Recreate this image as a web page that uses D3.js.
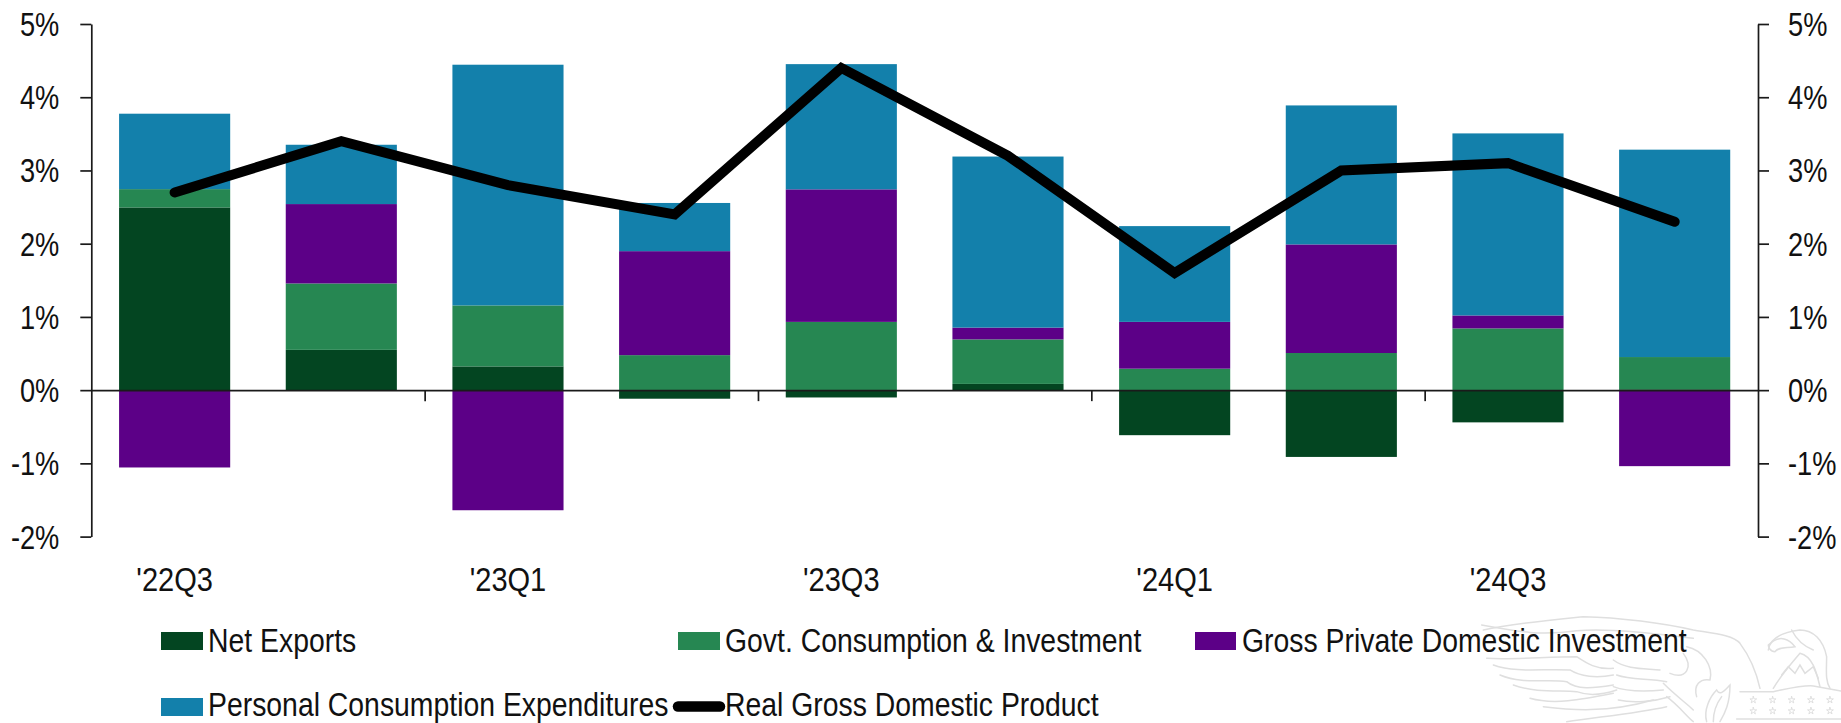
<!DOCTYPE html>
<html>
<head>
<meta charset="utf-8">
<style>
html,body{margin:0;padding:0;background:#fff;overflow:hidden}
svg{display:block}
text{font-family:"Liberation Sans",Arial,sans-serif;fill:#111}
</style>
<script src="https://cdnjs.cloudflare.com/ajax/libs/d3/7.8.5/d3.min.js"></script>
</head>
<body>
<svg id="c" width="1841" height="723"></svg>
<script>
const quarters = ["'22Q3","'22Q4","'23Q1","'23Q2","'23Q3","'23Q4","'24Q1","'24Q2","'24Q3","'24Q4"];
const labelledQuarters = ["'22Q3","'23Q1","'23Q3","'24Q1","'24Q3"];
const netExports = [2.495,0.55,0.324,-0.117,-0.10,0.085,-0.615,-0.912,-0.44,0.012];
const govt = [0.25,0.907,0.833,0.478,0.932,0.608,0.293,0.507,0.843,0.44];
const gpdi = [-1.056,1.084,-1.64,1.42,1.81,0.161,0.639,1.483,0.177,-1.038];
const pce = [1.03,0.81,3.287,0.658,1.71,2.336,1.308,1.898,2.486,2.832];
const gdp = [2.7,3.4,2.8,2.4,4.4,3.2,1.6,3.0,3.1,2.3];
const seriesNames = ["Net Exports","Govt. Consumption & Investment","Gross Private Domestic Investment","Personal Consumption Expenditures"];
const lineName = "Real Gross Domestic Product";
const seriesColors = ["#034521","#268752","#5c0087","#1380ab"];
const yTicks = [-2,-1,0,1,2,3,4,5];

const svg = d3.select("#c");
const L = 91.3, R = 1758, T = 24, B = 536.6;
const FS = 33;
const SX_TICK = 0.825, SX_LABEL = 0.88, SX_LEGEND = 0.86; // the reference text is horizontally condensed

const x = d3.scaleBand().domain(quarters).range([L,R]).paddingInner(1/3).paddingOuter(1/6);
const y = d3.scaleLinear().domain([-2,5]).range([B,T]);
const xEdge = d3.scaleLinear().domain([0,quarters.length]).range([L,R]);

const rows = quarters.map((q,i)=>({q,a:netExports[i],b:govt[i],c:gpdi[i],d:pce[i]}));
const stack = d3.stack().keys(["a","b","c","d"]).offset(d3.stackOffsetDiverging)(rows);

// watermark
const wm = svg.append("g").attr("transform","translate(1480,610) scale(0.3333)")
  .attr("fill","none").attr("stroke","#dfdfdf").attr("stroke-width",4.5).attr("stroke-linecap","round");
[
 "M10 60 C100 40 210 30 310 20 C420 22 550 40 640 60 C700 70 760 75 780 100 C810 140 830 190 840 235",
 "M5 45 C90 60 170 80 290 62 C400 55 520 70 640 85",
 "M20 145 C100 150 200 140 290 140 C320 160 350 180 400 175",
 "M40 165 C110 190 190 175 270 180 C300 200 350 205 400 195",
 "M60 195 C130 225 200 205 260 215 C290 240 340 235 400 225",
 "M100 225 C170 250 240 240 290 245 C330 260 380 250 410 240",
 "M150 265 C220 285 300 270 400 250",
 "M190 290 C270 300 380 310 520 270",
 "M260 335 C360 320 470 310 560 290",
 "M400 150 C440 180 500 175 540 180",
 "M410 195 C450 210 500 205 560 215",
 "M400 230 C440 245 500 245 550 240",
 "M415 270 C460 280 520 275 570 260",
 "M620 110 C670 120 700 170 690 210 C660 205 640 225 650 260",
 "M610 130 C640 170 620 210 570 190",
 "M550 220 C590 260 620 280 640 300",
 "M560 260 C600 290 620 320 640 335",
 "M680 335 C670 300 690 260 710 240 C720 260 735 240 750 225 C750 280 735 310 720 335",
 "M700 335 C700 300 710 280 725 260",
 "M865 120 C870 80 920 65 960 60 C1000 60 1030 90 1040 140 C1040 180 1035 210 1050 235",
 "M865 105 C900 70 930 90 945 110 C920 115 895 110 885 125 C870 125 865 110 865 105",
 "M880 235 C900 200 930 165 960 130 C1000 140 1010 190 1020 230",
 "M905 195 L925 170 L945 190 L960 165 L975 190 L1000 170 L1015 205",
 "M935 60 C950 90 975 110 1000 120",
 "M780 245 L880 245 C930 235 970 225 1000 228 L1083 243",
 "M770 327 L1083 327"
].forEach(d=>wm.append("path").attr("d",d));
[820,878,935,993,1050].forEach(cx=>[270,303].forEach(cy=>{
  wm.append("path").attr("d",d3.symbol(d3.symbolStar,130)()).attr("stroke-width",3)
    .attr("transform",`translate(${cx},${cy})`);
}));

// stacked bars
svg.append("g").selectAll("g").data(stack).join("g")
  .attr("fill",(d,i)=>seriesColors[i])
  .selectAll("rect").data(d=>d).join("rect")
  .attr("x",d=>x(d.data.q))
  .attr("width",x.bandwidth())
  .attr("y",d=>y(Math.max(d[0],d[1])))
  .attr("height",d=>Math.abs(y(d[0])-y(d[1])));

function styleAxis(g){
  g.selectAll("path.domain,line").attr("stroke","#1a1a1a").attr("stroke-width",1.7);
  g.selectAll("text").attr("font-size",FS).attr("fill","#111");
}
const pct = d=>d+"%";

// left axis
const yl = svg.append("g").attr("transform",`translate(${L},0)`)
  .call(d3.axisLeft(y).tickValues(yTicks).tickFormat(pct).tickSize(11).tickSizeOuter(0)).call(styleAxis);
yl.selectAll("text").attr("x",null).attr("dy",null).attr("text-anchor","end")
  .attr("transform",`translate(-32,11.5) scale(${SX_TICK},1)`);

// right axis
const yr = svg.append("g").attr("transform",`translate(${R},0)`)
  .call(d3.axisRight(y).tickValues(yTicks).tickFormat(pct).tickSize(11).tickSizeOuter(0)).call(styleAxis);
yr.selectAll("text").attr("x",null).attr("dy",null).attr("text-anchor","start")
  .attr("transform",`translate(30,11.5) scale(${SX_TICK},1)`);

// zero line + x ticks
svg.append("g").attr("transform",`translate(0,${y(0)})`)
  .call(d3.axisBottom(xEdge).tickValues([2,4,6,8]).tickFormat("").tickSize(11).tickSizeOuter(0)).call(styleAxis);

// x labels
const xl = svg.append("g").attr("transform",`translate(0,${B})`)
  .call(d3.axisBottom(x).tickValues(labelledQuarters).tickSize(0)).call(styleAxis);
xl.select("path.domain").remove();
xl.selectAll("text").attr("y",null).attr("dy",null).attr("text-anchor","middle")
  .attr("transform",`translate(0,54) scale(${SX_LABEL},1)`);

// GDP line
const line = d3.line().x((d,i)=>x(quarters[i])+x.bandwidth()/2).y(d=>y(d));
svg.append("path").datum(gdp).attr("d",line).attr("fill","none")
  .attr("stroke","#000").attr("stroke-width",10).attr("stroke-linecap","round").attr("stroke-linejoin","miter");

// legend
const legendItems = [
  {name:seriesNames[0],color:seriesColors[0],sx:161,sw:42,tx:208,row:0},
  {name:seriesNames[1],color:seriesColors[1],sx:678,sw:42,tx:725,row:0},
  {name:seriesNames[2],color:seriesColors[2],sx:1195,sw:41,tx:1242,row:0},
  {name:seriesNames[3],color:seriesColors[3],sx:161,sw:42,tx:208,row:1},
  {name:lineName,color:"#000",sx:678,sw:42,tx:725,row:1,isLine:true}
];
const rowY = [632,698];
const rowB = [652,716];
const lg = svg.append("g");
legendItems.forEach(it=>{
  if(it.isLine){
    lg.append("line").attr("x1",it.sx).attr("x2",it.sx+it.sw)
      .attr("y1",rowY[it.row]+8.5).attr("y2",rowY[it.row]+8.5)
      .attr("stroke",it.color).attr("stroke-width",10.5).attr("stroke-linecap","round");
  } else {
    lg.append("rect").attr("x",it.sx).attr("y",rowY[it.row]).attr("width",it.sw).attr("height",18).attr("fill",it.color);
  }
  lg.append("text").text(it.name).attr("font-size",FS)
    .attr("transform",`translate(${it.tx},${rowB[it.row]}) scale(${SX_LEGEND},1)`);
});
</script>
</body>
</html>
